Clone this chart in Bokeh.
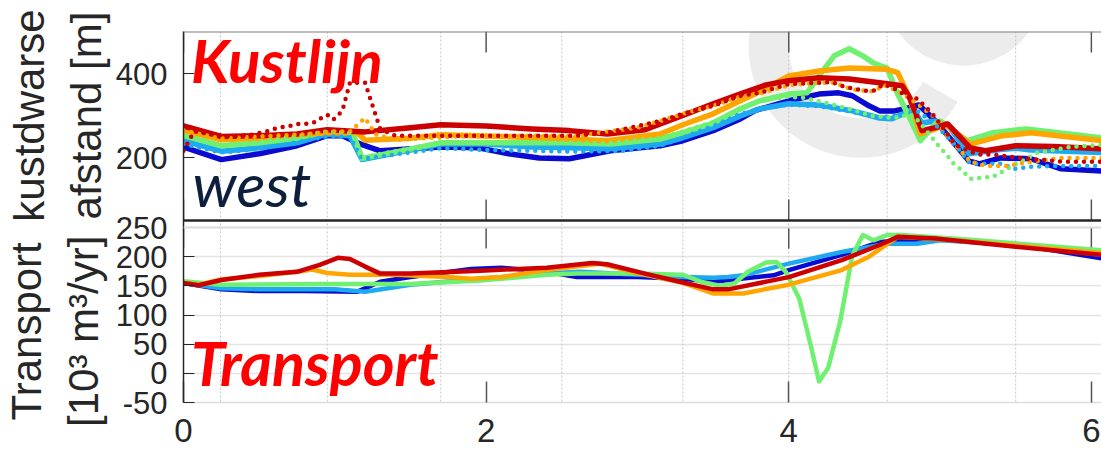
import math
from bokeh.plotting import figure
from bokeh.models import Range1d, FixedTicker, LinearAxis, Span, Label, Grid
from bokeh.core.properties import value
from bokeh.embed import file_html
from bokeh.resources import INLINE

# ---------------- data ----------------
series_names = ["dark blue", "light blue", "green", "orange", "red"]
series_colors = ["#0a0ad0", "#1eaaf0", "#70f070", "#ffa500", "#cc0000"]

site_x = [0.245, 0.95, 1.70, 2.50, 3.30, 4.0, 4.65, 5.50]
x_ticks = [0, 2, 4, 6]
top_y_ticks = [200, 400]
bottom_y_ticks = [-50, 0, 50, 100, 150, 200, 250]

# coastline position, solid lines
x_db = [0, 0.25, 0.5, 0.75, 0.95, 1.05, 1.17, 1.3, 1.7, 1.95, 2.15, 2.35, 2.55, 2.82, 3.15, 3.3, 3.5, 3.68, 3.78, 4.0, 4.2, 4.33, 4.42, 4.53, 4.6, 4.7, 4.79, 4.86, 4.97, 5.19, 5.26, 5.4, 5.6, 5.8, 6.07]
y_db = [225, 195, 209, 228, 252, 252, 232, 216, 225, 223, 209, 199, 197, 216, 228, 240, 264, 292, 312, 335, 351, 354, 347, 323, 311, 311, 318, 325, 287, 192, 185, 199, 197, 173, 168]

x_lb = [0, 0.25, 0.5, 0.75, 0.95, 1.1, 1.18, 1.5, 1.7, 2.0, 2.3, 2.55, 2.82, 3.15, 3.3, 3.5, 3.68, 3.81, 4.0, 4.2, 4.42, 4.6, 4.68, 4.76, 4.82, 4.88, 4.97, 5.05, 5.19, 5.4, 5.5, 5.6, 6.07]
y_lb = [240, 215, 223, 235, 256, 252, 195, 218, 232, 232, 225, 223, 221, 232, 247, 271, 299, 316, 328, 325, 311, 294, 292, 304, 316, 282, 287, 278, 209, 219, 222, 218, 212]

x_gr = [0, 0.25, 0.5, 0.75, 0.95, 1.12, 1.18, 1.5, 1.7, 2.2, 2.55, 2.82, 3.15, 3.3, 3.5, 3.68, 3.81, 4.0, 4.12, 4.21, 4.3, 4.4, 4.49, 4.56, 4.65, 4.72, 4.8, 4.87, 4.97, 5.0, 5.18, 5.35, 5.57, 6.07]
y_gr = [252, 228, 235, 246, 262, 258, 198, 220, 235, 235, 235, 232, 244, 259, 282, 316, 335, 351, 354, 399, 442, 459, 442, 425, 413, 351, 294, 240, 280, 287, 240, 259, 268, 247]

x_or = [0, 0.25, 0.5, 0.75, 0.95, 1.15, 1.2, 1.5, 1.7, 2.2, 2.55, 2.8, 3.15, 3.3, 3.5, 3.68, 3.78, 4.0, 4.2, 4.4, 4.65, 4.72, 4.8, 4.87, 4.97, 5.03, 5.2, 5.4, 5.6, 6.07]
y_or = [265, 242, 246, 254, 259, 259, 241, 246, 254, 249, 244, 240, 256, 278, 304, 335, 352, 394, 406, 413, 410, 402, 342, 256, 268, 280, 232, 251, 259, 240]

x_rd = [0, 0.25, 0.5, 0.75, 0.95, 1.2, 1.5, 1.7, 2.0, 2.3, 2.55, 2.8, 3.05, 3.3, 3.5, 3.7, 3.85, 4.0, 4.2, 4.4, 4.6, 4.75, 4.8, 4.88, 4.97, 5.05, 5.2, 5.3, 5.5, 5.75, 6.07]
y_rd = [275, 250, 252, 256, 266, 261, 271, 278, 275, 268, 264, 256, 266, 300, 328, 354, 373, 383, 390, 387, 378, 371, 342, 264, 271, 280, 223, 216, 228, 226, 221]

# coastline position, dotted lines
xd_lb = [0, 0.25, 0.5, 0.95, 1.1, 1.18, 1.5, 1.7, 2.0, 2.3, 2.6, 2.9, 3.15, 3.3, 3.5, 3.68, 3.81, 4.0, 4.2, 4.4, 4.6, 4.75, 4.85, 4.95, 5.1, 5.2, 5.4, 5.5, 5.6, 5.8, 6.07]
yd_lb = [232, 212, 220, 250, 250, 197, 212, 222, 218, 216, 214, 216, 228, 247, 276, 304, 316, 326, 322, 310, 295, 302, 310, 285, 230, 185, 185, 173, 178, 180, 180]

xd_gr = [0, 0.25, 0.5, 0.95, 1.12, 1.18, 1.5, 1.7, 2.5, 2.8, 3.15, 3.5, 3.8, 4.0, 4.1, 4.25, 4.4, 4.55, 4.7, 4.8, 4.85, 4.99, 5.05, 5.09, 5.15, 5.2, 5.25, 5.35, 5.42, 5.64, 5.86, 6.07]
yd_gr = [252, 228, 237, 262, 258, 200, 222, 236, 236, 234, 246, 284, 335, 345, 342, 330, 316, 299, 294, 304, 290, 228, 204, 185, 168, 149, 151, 154, 168, 211, 225, 230]

xd_or = [0, 0.25, 0.5, 0.8, 1.0, 1.1, 1.2, 1.27, 1.4, 1.8, 2.3, 2.6, 2.8, 3.0, 3.15, 3.3, 3.5, 3.68, 3.81, 4.0, 4.2, 4.3, 4.42, 4.56, 4.63, 4.72, 4.8, 4.88, 4.95, 5.05, 5.2, 5.3, 5.45, 5.55, 5.8, 6.07]
yd_or = [265, 245, 250, 255, 262, 262, 294, 255, 242, 250, 252, 250, 262, 271, 287, 304, 323, 345, 352, 372, 378, 378, 362, 357, 372, 358, 340, 320, 300, 250, 190, 180, 180, 187, 199, 199]

xd_rd = [0, 0.07, 0.3, 0.45, 0.55, 0.6, 0.66, 0.71, 0.75, 0.8, 0.86, 0.9, 0.95, 0.99, 1.05, 1.1, 1.2, 1.25, 1.3, 1.4, 2.0, 2.6, 2.8, 2.95, 3.15, 3.3, 3.5, 3.68, 3.81, 3.9, 4.0, 4.2, 4.28, 4.35, 4.42, 4.5, 4.56, 4.63, 4.72, 4.8, 4.85, 4.95, 5.0, 5.1, 5.25, 5.35, 5.5, 5.8, 6.07]
yd_rd = [216, 262, 250, 254, 262, 268, 273, 276, 280, 280, 283, 292, 302, 290, 311, 378, 378, 323, 268, 252, 252, 252, 259, 271, 287, 304, 323, 347, 354, 364, 375, 378, 380, 371, 364, 359, 359, 375, 360, 342, 340, 304, 280, 230, 207, 207, 200, 190, 190]

# transport
xt_db = [0, 0.25, 0.5, 0.8, 1.15, 1.3, 1.5, 1.9, 2.1, 2.4, 2.6, 3.0, 3.3, 3.5, 3.9, 4.0, 4.35, 4.6, 4.97, 5.6, 6.07]
yt_db = [155, 144, 141, 141, 140, 157, 165, 179, 181, 174, 165, 165, 162, 157, 168, 177, 203, 225, 231, 217, 197]

xt_lb = [0, 0.25, 0.5, 1.0, 1.2, 1.5, 1.96, 2.4, 2.62, 3.3, 3.5, 3.6, 3.7, 4.0, 4.35, 4.65, 4.85, 5.0, 5.5, 6.07]
yt_lb = [155, 146, 144, 144, 140, 152, 162, 171, 174, 165, 164, 165, 168, 188, 208, 222, 222, 228, 220, 203]

xt_gr = [0, 0.25, 1.0, 1.5, 1.96, 2.4, 2.6, 3.0, 3.3, 3.42, 3.55, 3.64, 3.73, 3.85, 3.92, 3.98, 4.07, 4.15, 4.2, 4.26, 4.34, 4.42, 4.49, 4.56, 4.65, 4.75, 5.2, 6.07]
yt_gr = [158, 152, 153, 153, 159, 169, 171, 171, 169, 157, 150, 154, 174, 190, 191, 174, 128, 43, -14, 9, 89, 202, 237, 228, 237, 237, 229, 211]

xt_or = [0, 0.1, 0.25, 0.5, 0.75, 0.85, 0.95, 1.1, 1.4, 1.75, 1.9, 2.1, 2.4, 2.75, 3.0, 3.3, 3.5, 3.7, 4.0, 4.35, 4.53, 4.72, 5.0, 5.5, 6.07]
yt_or = [155, 152, 161, 167, 174, 178, 172, 169, 169, 165, 162, 165, 177, 188, 172, 155, 137, 137, 152, 177, 200, 234, 230, 219, 206]

xt_rd = [0, 0.1, 0.25, 0.5, 0.75, 0.9, 1.02, 1.1, 1.2, 1.3, 1.5, 1.96, 2.4, 2.7, 2.8, 3.05, 3.28, 3.5, 3.6, 4.0, 4.35, 4.6, 4.72, 4.97, 5.5, 6.07]
yt_rd = [155, 151, 160, 169, 174, 186, 198, 196, 183, 171, 171, 176, 181, 189, 187, 171, 157, 144, 144, 165, 194, 220, 234, 231, 217, 203]

top_solid = [(x_db, y_db), (x_lb, y_lb), (x_gr, y_gr), (x_or, y_or), (x_rd, y_rd)]
top_dotted = [(1, xd_lb, yd_lb), (2, xd_gr, yd_gr), (3, xd_or, yd_or), (4, xd_rd, yd_rd)]
transport = [(xt_db, yt_db), (xt_lb, yt_lb), (xt_gr, yt_gr), (xt_or, yt_or), (xt_rd, yt_rd)]

top_title = "kustdwarse\nafstand [m]"
bottom_title = "Transport\n[10³ m³/yr]"

# ---------------- geometry / styling ----------------
AX = "#262626"
FONT = "Liberation Sans"
X_END = 6.067
TOP_Y = (50, 500)
BOT_Y = (-50, 250)
TICK_LEN = 21
WM = "#ececec"

# both panels share one frame: top panel 189 px, gap 7 px, bottom panel 175 px
TOP_PX, GAP_PX, BOT_PX = 189, 7, 175
FRAME_PX = TOP_PX + GAP_PX + BOT_PX
main_lo = TOP_Y[1] - (TOP_Y[1] - TOP_Y[0]) * FRAME_PX / TOP_PX
tr_hi = BOT_Y[0] + (BOT_Y[1] - BOT_Y[0]) * FRAME_PX / BOT_PX


def tr_to_main(v):
    f = (v - BOT_Y[0]) / (tr_hi - BOT_Y[0])
    return round(main_lo + f * (TOP_Y[1] - main_lo), 6)


p = figure(width=1101, height=462, x_range=Range1d(0, X_END), y_range=Range1d(main_lo, TOP_Y[1]),
           output_backend="svg", toolbar_location=None,
           x_axis_location=None, y_axis_location=None,
           min_border_left=183, min_border_right=0, min_border_top=31, min_border_bottom=60)
p.extra_y_ranges = {"tr": Range1d(BOT_Y[0], tr_hi)}
p.outline_line_color = None
p.xgrid.visible = False
p.ygrid.visible = False

# ---- left axis carrying both panels' ticks
left_ticks = list(top_y_ticks) + [tr_to_main(v) for v in bottom_y_ticks]
left_text = [str(v) for v in top_y_ticks] + [str(v) for v in bottom_y_ticks]
yax = LinearAxis(ticker=FixedTicker(ticks=left_ticks),
                 major_label_overrides=dict(zip(left_ticks, left_text)))
yax.major_label_text_font = FONT
yax.major_label_text_font_size = "31px"
yax.major_label_text_color = AX
yax.major_tick_in = 11
yax.major_tick_out = 0
yax.minor_tick_in = 0
yax.minor_tick_out = 0
yax.major_tick_line_color = AX
yax.axis_line_color = AX
yax.axis_line_width = 1.5
yax.major_label_standoff = 16
p.add_layout(yax, "left")

# ---- bottom x axis
xax = LinearAxis(ticker=FixedTicker(ticks=x_ticks))
xax.major_tick_in = TICK_LEN
xax.major_tick_out = 0
xax.minor_tick_in = 0
xax.minor_tick_out = 0
xax.major_tick_line_color = "#555555"
xax.major_tick_line_width = 1.5
xax.axis_line_color = "#dddddd"
xax.axis_line_width = 1.5
xax.major_label_text_font = FONT
xax.major_label_text_font_size = "33px"
xax.major_label_text_color = AX
xax.major_label_standoff = 16
p.add_layout(xax, "below")

# ---- axis titles (text glyphs on the overlay level, so not clipped to the frame)
p.text(x=[-0.83], y=[300], text=[top_title], angle=math.pi / 2,
       text_font=value(FONT), text_font_size="42px", text_color=AX,
       text_align="center", text_baseline="middle", text_line_height=1.2, level="overlay")
p.text(x=[-0.85], y=[72], y_range_name="tr", text=[bottom_title], angle=math.pi / 2,
       text_font=value(FONT), text_font_size="42px", text_color=AX,
       text_align="center", text_baseline="middle", text_line_height=1.2, level="overlay")

# ---- faint watermark of the slide
p.annular_wedge(x=[4.475], y=[466], inner_radius=72, outer_radius=112,
                inner_radius_units="screen", outer_radius_units="screen",
                start_angle=math.radians(90), end_angle=math.radians(330),
                fill_color=WM, line_color=None, level="underlay")
p.annulus(x=[5.155], y=[609], inner_radius=45, outer_radius=80,
          inner_radius_units="screen", outer_radius_units="screen",
          fill_color=WM, line_color=None, level="underlay")

# ---- panel borders, grid, site lines, tick marks
p.add_layout(Grid(dimension=1, ticker=FixedTicker(ticks=bottom_y_ticks), y_range_name="tr",
                  grid_line_color="#e4e4e4", grid_line_width=1.5))
p.add_layout(Span(location=TOP_Y[1], dimension="width", line_color="#808080", line_width=2))
p.add_layout(Span(location=BOT_Y[1], dimension="width", y_range_name="tr",
                  line_color="#dddddd", line_width=2))
for sx in site_x:
    p.add_layout(Span(location=sx, dimension="height", line_color="#c4c4c4",
                      line_dash="2 2", line_width=1, level="underlay"))

p.ray(x=x_ticks, y=[TOP_Y[1]] * len(x_ticks), length=TICK_LEN, length_units="screen",
      angle=-math.pi / 2, line_color="#555555", line_width=1.5)
p.ray(x=x_ticks, y=[TOP_Y[0]] * len(x_ticks), length=TICK_LEN, length_units="screen",
      angle=math.pi / 2, line_color="#555555", line_width=1.5)
p.ray(x=x_ticks, y=[BOT_Y[1]] * len(x_ticks), y_range_name="tr", length=TICK_LEN,
      length_units="screen", angle=-math.pi / 2, line_color="#555555", line_width=1.5)

# ---- coastline panel
for (x, y), c in zip(top_solid, series_colors):
    p.line(x, y, line_color=c, line_width=5.5, line_join="round", line_cap="round")
for idx, x, y in top_dotted:
    p.line(x, y, line_color=series_colors[idx], line_width=4.5, line_dash="0 8", line_cap="round")

p.add_layout(Span(location=TOP_Y[0], dimension="width", line_color=AX, line_width=2.5))

# ---- transport panel
for (x, y), c in zip(transport, series_colors):
    p.line(x, y, y_range_name="tr", line_color=c, line_width=4.5, line_join="round", line_cap="round")

# ---- slide annotations
p.add_layout(Label(x=0.05, y=432, text="Kustlijn", text_font="Lato", text_font_style="bold italic",
                   text_font_size="60px", text_color="#ff0000", text_baseline="alphabetic"))
p.add_layout(Label(x=0.06, y=139, text="west", text_font="Lato", text_font_style="italic",
                   text_font_size="61px", text_color="#0d1f3c", text_baseline="alphabetic"))
p.add_layout(Label(x=0.05, y=19, y_range_name="tr", text="Transport", text_font="Lato",
                   text_font_style="bold italic", text_font_size="61px", text_color="#ff0000",
                   text_baseline="alphabetic"))

open("out.html", "w").write(file_html(p, INLINE))
